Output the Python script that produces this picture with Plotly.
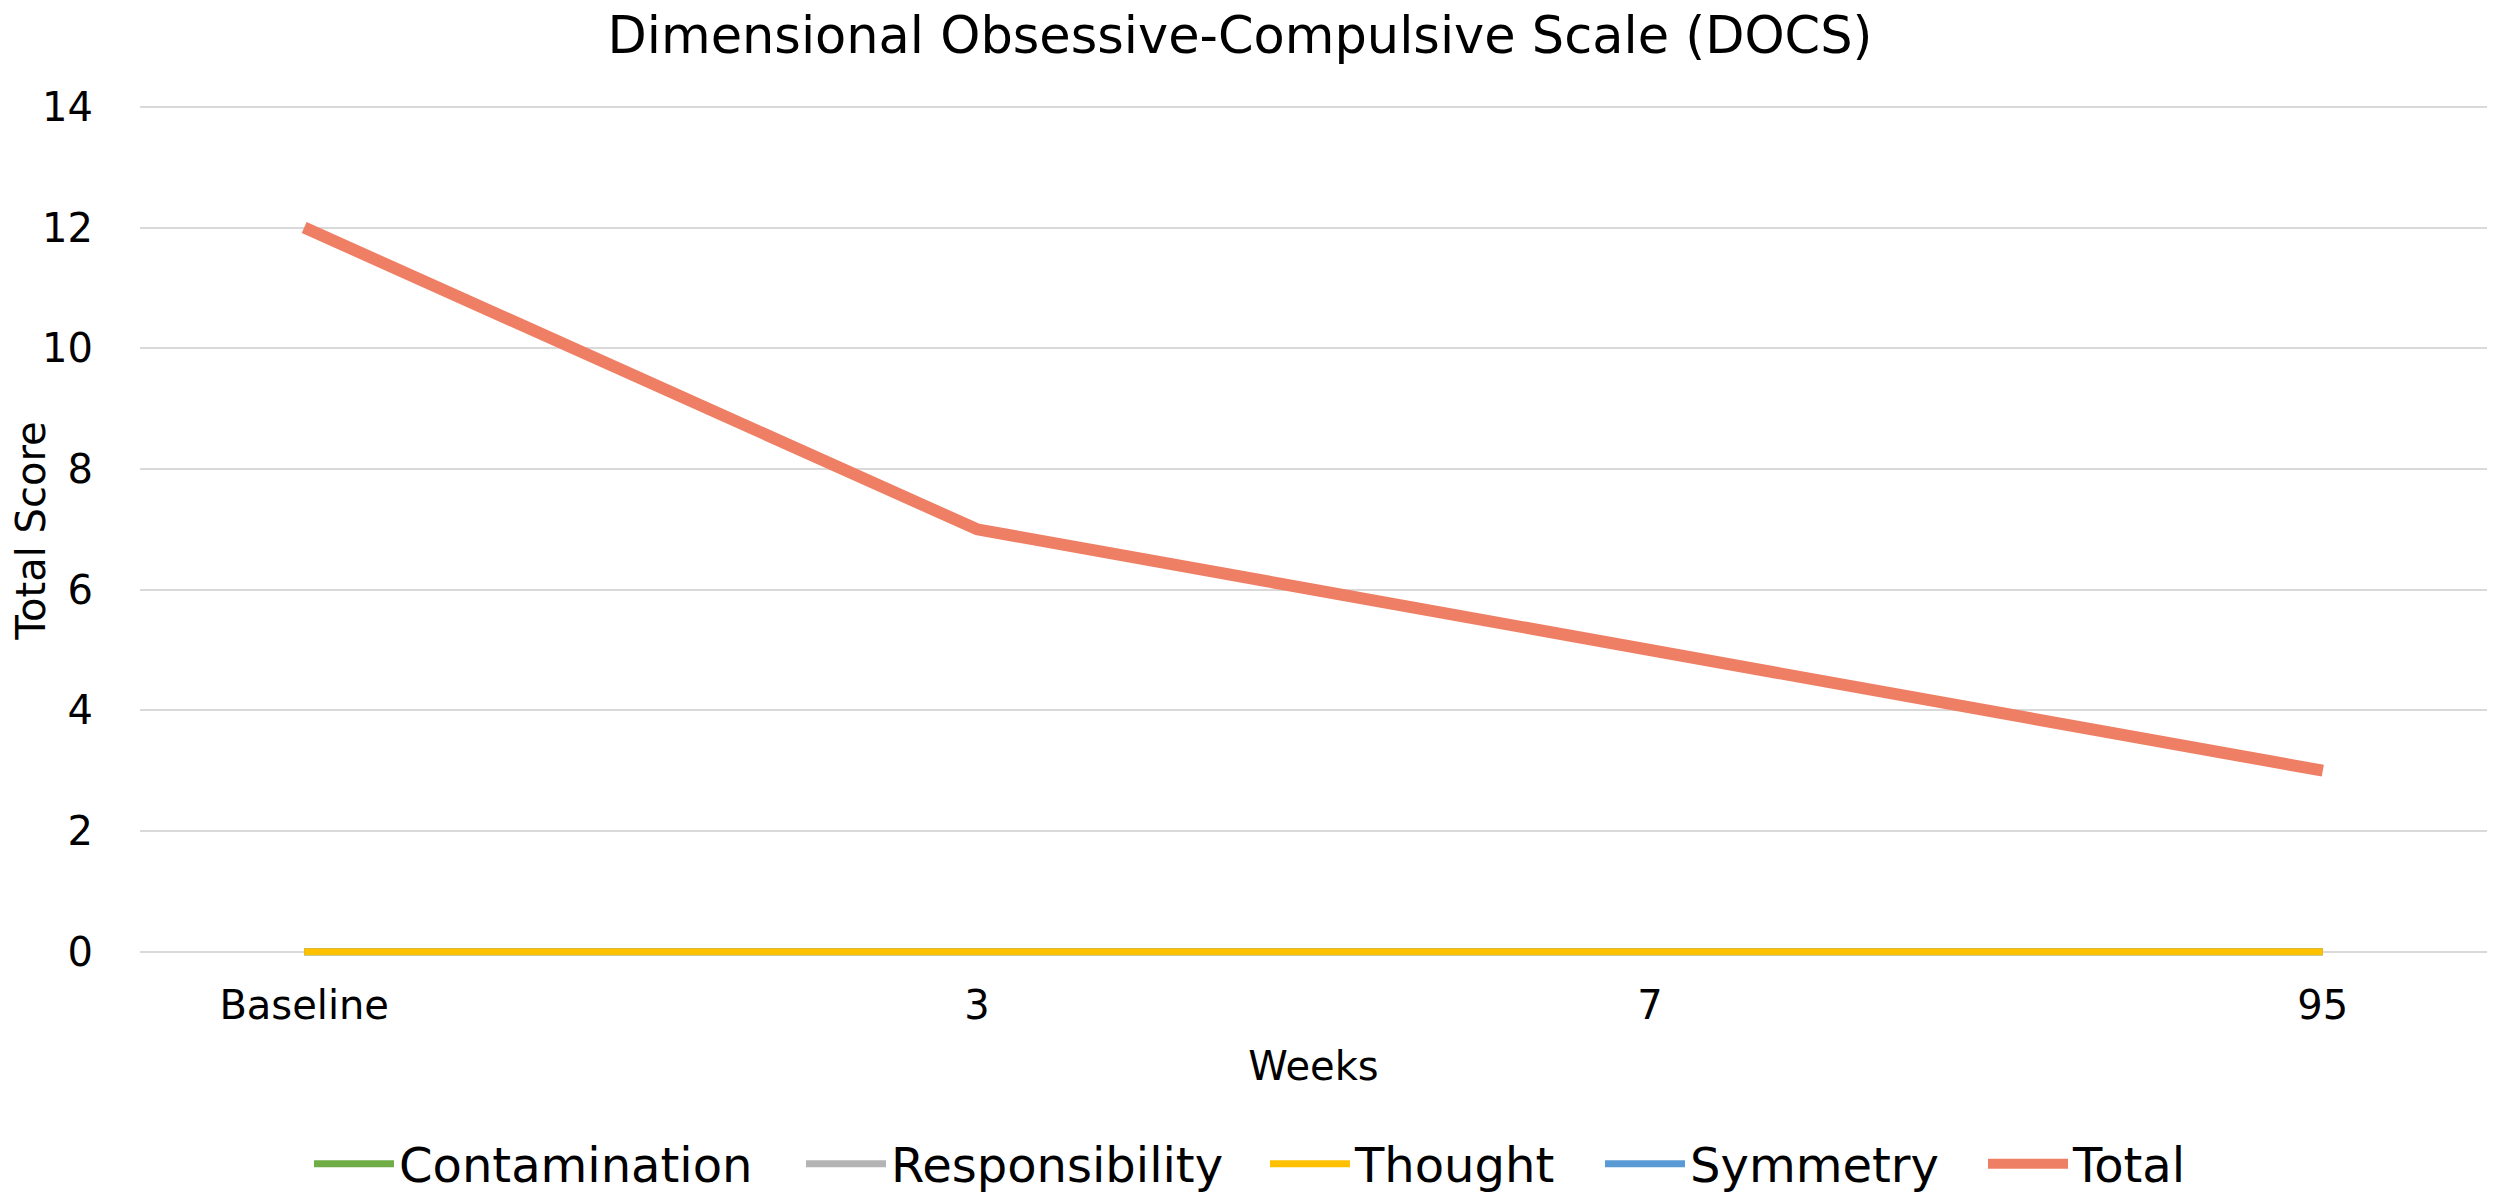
import plotly.graph_objects as go

weeks = ["Baseline", "3", "7", "95"]
contamination = [0, 0, 0, 0]
responsibility = [0, 0, 0, 0]
thought = [0, 0, 0, 0]
symmetry = [0, 0, 0, 0]
total = [12, 7, 5, 3]

FONT = "DejaVu Sans"

W, H = 2500, 1201
OFF = 8                      # page body margin compensation
PL, PR = 140 - OFF, 2487 - OFF
PT, PB = 105 - OFF, 956 - OFF

# legend entries: name, values, color, width, legend id, legend x (px)
series = [
    ("Contamination", contamination, "#70AD47", 7, "legend", 301),
    ("Responsibility", responsibility, "#B4B4B4", 7, "legend2", 793),
    ("Symmetry", symmetry, "#5B9BD5", 7, "legend4", 1592),
    ("Thought", thought, "#FFC000", 7, "legend3", 1257),
    ("Total", total, "#EF7F64", 12, "legend5", 1975),
]

fig = go.Figure()
for name, vals, color, w, leg, _ in series:
    fig.add_trace(go.Scatter(
        x=list(range(len(weeks))), y=vals, name=name, mode="lines",
        line=dict(color=color, width=w), legend=leg,
    ))

leg_y = -(1164 - OFF - PB) / (PB - PT)
legends = {}
for name, vals, color, w, leg, lx in series:
    legends[leg] = dict(
        orientation="h", x=(lx - PL) / (PR - PL), xanchor="left",
        y=leg_y, yanchor="middle", font=dict(size=48, family=FONT),
        itemwidth=80, bgcolor="rgba(0,0,0,0)",
    )

fig.update_layout(
    width=W, height=H,
    paper_bgcolor="white", plot_bgcolor="white",
    margin=dict(l=PL, r=W - PR, t=PT, b=H - PB, autoexpand=False),
    font=dict(family=FONT, color="#000000", size=40),
    title=dict(text="Dimensional Obsessive-Compulsive Scale (DOCS)",
               x=(1240 - OFF) / W, xref="container", xanchor="center",
               y=1 - 27 / H, yref="container", yanchor="middle",
               font=dict(size=51, family=FONT, color="#000000")),
    showlegend=True,
    **legends,
)
fig.update_xaxes(
    tickmode="array", tickvals=list(range(len(weeks))), ticktext=weeks,
    range=[-0.244, 3.244], showgrid=False, zeroline=False, showline=False,
    ticks="", ticklabelstandoff=22, automargin=False,
    title=dict(text="Weeks", font=dict(size=40), standoff=24),
)
fig.update_yaxes(
    range=[-0.07, 14.03], tickvals=[0, 2, 4, 6, 8, 10, 12, 14],
    showgrid=True, gridcolor="#D9D9D9", gridwidth=2,
    zeroline=False, showline=False, ticks="", ticklabelstandoff=46, automargin=False,
    title=dict(text="Total Score", font=dict(size=40), standoff=10),
)

fig.write_html("out.html")
